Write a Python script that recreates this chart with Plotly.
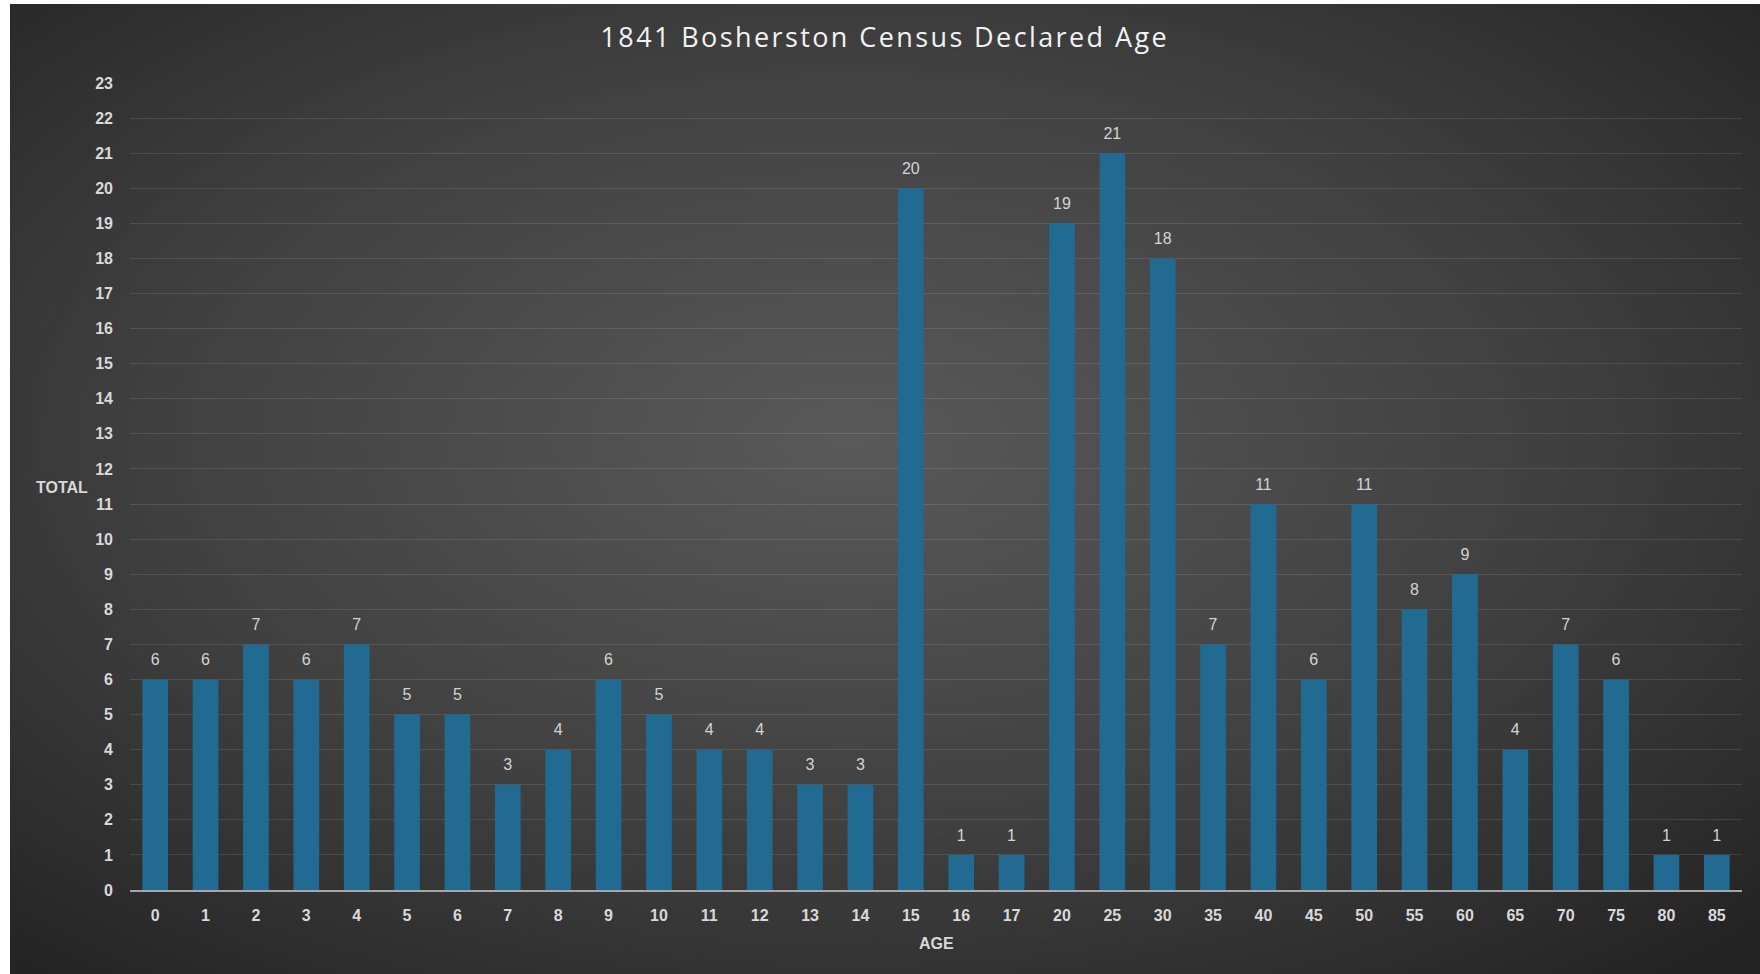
import base64
import plotly.graph_objects as go

ages = ["0", "1", "2", "3", "4", "5", "6", "7", "8", "9", "10", "11", "12", "13", "14",
        "15", "16", "17", "20", "25", "30", "35", "40", "45", "50", "55", "60", "65",
        "70", "75", "80", "85"]
totals = [6, 6, 7, 6, 7, 5, 5, 3, 4, 6, 5, 4, 4, 3, 3,
          20, 1, 1, 19, 21, 18, 7, 11, 6, 11, 8, 9, 4,
          7, 6, 1, 1]
y_ticks = list(range(0, 24))

W, H = 1760, 974
L, R, T, B = 130, 18, 83, 84
pw, ph = W - L - R, H - T - B

svg = """<svg xmlns='http://www.w3.org/2000/svg' width='1750' height='970' viewBox='0 0 100 100' preserveAspectRatio='none'>
<defs><radialGradient id='g' cx='48%' cy='45%' r='72%'>
<stop offset='0%' stop-color='#595959'/>
<stop offset='55%' stop-color='#404040'/>
<stop offset='100%' stop-color='#242424'/>
</radialGradient></defs>
<rect x='0' y='0' width='100' height='100' fill='url(#g)'/></svg>"""
src = "data:image/svg+xml;base64," + base64.b64encode(svg.encode()).decode()

fig = go.Figure()
fig.add_trace(go.Bar(
    x=ages, y=totals,
    marker=dict(color="#216b93", line=dict(width=0)),
    hoverinfo="x+y",
))
fig.add_trace(go.Scatter(
    x=ages, y=totals,
    mode="markers+text",
    marker=dict(size=15, opacity=0),
    text=[str(v) for v in totals],
    textposition="top center",
    textfont=dict(family="Liberation Sans", size=16, color="#d4d4d4"),
    cliponaxis=False,
    hoverinfo="skip",
))

fig.update_layout(
    width=W, height=H,
    margin=dict(l=L, r=R, t=T, b=B, autoexpand=False),
    paper_bgcolor="white",
    plot_bgcolor="rgba(0,0,0,0)",
    bargap=0.49,
    showlegend=False,
    title=dict(text="1841 Bosherston Census Declared Age", x=0.5027, xanchor="center",
               y=1 - 38 / H, yanchor="middle",
               font=dict(family="Open Sans", size=27, color="#f2f2f2")),
    xaxis=dict(type="category", range=[-0.5, len(ages) - 0.5],
               tickfont=dict(family="Liberation Sans", size=16, color="#d9d9d9", weight="bold"),
               showgrid=False, showline=True, linecolor="#a6a6a6", linewidth=2,
               ticks="", ticklabelstandoff=10, zeroline=False, automargin=False),
    yaxis=dict(range=[0, 23], tickvals=y_ticks, ticktext=[str(v) for v in y_ticks],
               tickfont=dict(family="Liberation Sans", size=16, color="#d9d9d9", weight="bold"),
               showgrid=True, gridcolor="rgba(255,255,255,0.11)", gridwidth=1,
               zeroline=False, showline=False, ticks="", ticklabelstandoff=16, automargin=False),
    images=[dict(source=src, xref="paper", yref="paper",
                 x=(10 - L) / pw, y=(H - B - 4) / ph,
                 sizex=(W - 10) / pw, sizey=(H - 4) / ph,
                 xanchor="left", yanchor="top", sizing="stretch", layer="below")],
    annotations=[
        dict(text="<b>TOTAL</b>", xref="paper", yref="paper", x=(62 - L) / pw, y=(H - B - 488) / ph,
             xanchor="center", yanchor="middle",
             showarrow=False, font=dict(family="Liberation Sans", size=16, color="#d9d9d9")),
        dict(text="<b>AGE</b>", xref="paper", yref="paper", x=0.5, y=-(943 - (H - B)) / ph,
             xanchor="center", yanchor="middle",
             showarrow=False, font=dict(family="Liberation Sans", size=16, color="#d9d9d9")),
    ],
)

post = ("document.body.style.margin='0px';"
        "var t=document.querySelector('.gtitle'); if(t){t.style.letterSpacing='2.4px';}")
fig.write_html("out.html", post_script=post, config={"displayModeBar": False})
